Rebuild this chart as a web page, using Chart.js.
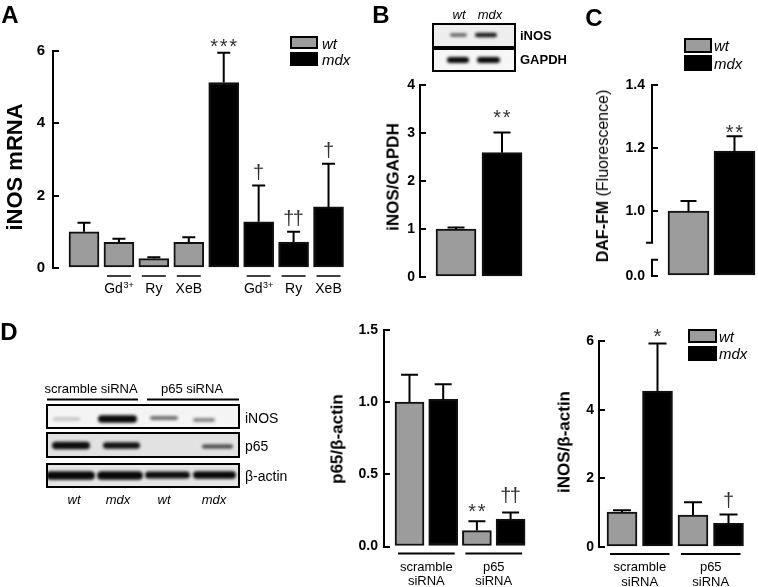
<!DOCTYPE html>
<html lang="en">
<head>
<meta charset="UTF-8">
<title>iNOS in wt and mdx muscle</title>
<script src="https://cdn.jsdelivr.net/npm/chart.js@4"></script>
<style>
  body { margin: 0; background: #fff; }
  #fig { position: relative; width: 758px; height: 587px; overflow: hidden;
         font-family: "Liberation Sans", Arial, sans-serif; color: #000; }
  #fig canvas { position: absolute; left: 0; top: 0; }
  /* text centred on (left, top) */
  .t { position: absolute; white-space: nowrap; line-height: 1; transform: translate(-50%, -50%); }
  /* text starting at left, centred vertically on top */
  .l { position: absolute; white-space: nowrap; line-height: 1; transform: translateY(-50%); }
  /* rotated axis titles */
  .v { position: absolute; white-space: nowrap; line-height: 1; font-weight: bold;
       transform: translate(-50%, -50%) rotate(-90deg); }
  .p { font-size: 24px; font-weight: bold; }
  .box { position: absolute; box-sizing: border-box; border: 2px solid #000; }
  .wt { background: #9c9c9c; }
  .mdx { background: #000; }
  .it { font-style: italic; }
</style>
</head>
<body>
<div id="fig">
  <canvas id="blots" width="758" height="587"></canvas>
  <canvas id="chartA" width="758" height="587"></canvas>
  <canvas id="chartB" width="758" height="587"></canvas>
  <canvas id="chartC" width="758" height="587"></canvas>
  <canvas id="chartP65" width="758" height="587"></canvas>
  <canvas id="chartInos" width="758" height="587"></canvas>

  <!-- panel letters -->
  <div class="t p" style="left:10px; top:15px;">A</div>
  <div class="t p" style="left:381px; top:15px;">B</div>
  <div class="t p" style="left:594px; top:18px;">C</div>
  <div class="t p" style="left:9px; top:332px;">D</div>

  <!-- axis titles -->
  <div class="v" style="left:15px; top:167px; font-size:22px;">iNOS mRNA</div>
  <div class="v" style="left:393px; top:177px; font-size:17px;">iNOS/GAPDH</div>
  <div class="v" style="left:603px; top:176px; font-size:16px;">DAF-FM <span style="font-weight:normal;">(Fluorescence)</span></div>
  <div class="v" style="left:337px; top:439px; font-size:17px;">p65/β-actin</div>
  <div class="v" style="left:564px; top:442px; font-size:17px;">iNOS/β-actin</div>

  <!-- legends -->
  <div class="box wt" style="left:290px; top:36px; width:28px; height:13px;"></div>
  <div class="box mdx" style="left:290px; top:52px; width:28px; height:14px;"></div>
  <div class="l it" style="left:322px; top:43px; font-size:15px;">wt</div>
  <div class="l it" style="left:322px; top:59px; font-size:15px;">mdx</div>

  <div class="box wt" style="left:684px; top:38px; width:28px; height:15px;"></div>
  <div class="box mdx" style="left:684px; top:55px; width:28px; height:16px;"></div>
  <div class="l it" style="left:714px; top:45px; font-size:15px;">wt</div>
  <div class="l it" style="left:714px; top:63px; font-size:15px;">mdx</div>

  <div class="box wt" style="left:688px; top:329px; width:29px; height:14px;"></div>
  <div class="box mdx" style="left:688px; top:346px; width:29px; height:15px;"></div>
  <div class="l it" style="left:719px; top:336px; font-size:15px;">wt</div>
  <div class="l it" style="left:719px; top:353px; font-size:15px;">mdx</div>

  <!-- blot labels, panel B -->
  <div class="t it" style="left:459px; top:14px; font-size:13px;">wt</div>
  <div class="t it" style="left:490px; top:14px; font-size:13px;">mdx</div>
  <div class="l" style="left:520px; top:35px; font-size:13px; font-weight:bold;">iNOS</div>
  <div class="l" style="left:520px; top:59px; font-size:13px; font-weight:bold;">GAPDH</div>

  <!-- blot labels, panel D -->
  <div class="t" style="left:91px; top:388px; font-size:13px;">scramble siRNA</div>
  <div class="t" style="left:192px; top:388px; font-size:13px;">p65 siRNA</div>
  <div class="l" style="left:245px; top:418px; font-size:14px;">iNOS</div>
  <div class="l" style="left:245px; top:446px; font-size:14px;">p65</div>
  <div class="l" style="left:245px; top:476px; font-size:14px;">β-actin</div>
  <div class="t it" style="left:74px; top:499px; font-size:13px;">wt</div>
  <div class="t it" style="left:118px; top:499px; font-size:13px;">mdx</div>
  <div class="t it" style="left:164px; top:499px; font-size:13px;">wt</div>
  <div class="t it" style="left:214px; top:499px; font-size:13px;">mdx</div>
</div>

<script>
// ---------- data (mean and SEM) ----------

// A: iNOS mRNA; wt then mdx, each untreated / Gd3+ / Ry / XeB
const aLabels = ['', 'Gd^3+', 'Ry', 'XeB', '', 'Gd^3+', 'Ry', 'XeB'];
const aWt = [1.00, 0.71, 0.26, 0.71];
const aWtSem = [0.25, 0.10, 0.04, 0.14];
const aMdx = [5.13, 1.28, 0.72, 1.69];
const aMdxSem = [0.82, 1.00, 0.28, 1.19];
const aMdxMarks = ['***', '†', '††', '†'];
const aTicks = [0, 2, 4, 6];
const aTickLabels = ['0', '2', '4', '6'];

// B: iNOS/GAPDH
const bWt = [1.00];
const bWtSem = [0.03];
const bMdx = [2.59];
const bMdxSem = [0.42];
const bMdxMarks = ['**'];
const bTicks = [0, 1, 2, 3, 4];
const bTickLabels = ['0', '1', '2', '3', '4'];

// C: DAF-FM fluorescence, broken axis (lowest tick stands for 0.0)
const cWt = [1.00];
const cWtSem = [0.032];
const cMdx = [1.19];
const cMdxSem = [0.047];
const cMdxMarks = ['**'];
const cTicks = [0.7937, 1.0, 1.2, 1.4];
const cTickLabels = ['0.0', '1.0', '1.2', '1.4'];
const cBreak = [0.845, 0.899];

// D: scramble siRNA / p65 siRNA
const dGroups = ['scramble siRNA', 'p65 siRNA'];
const p65Wt = [1.00, 0.11];
const p65WtSem = [0.19, 0.065];
const p65WtMarks = ['', '**'];
const p65Mdx = [1.02, 0.19];
const p65MdxSem = [0.105, 0.046];
const p65MdxMarks = ['', '††'];
const p65Ticks = [0, 0.5, 1.0, 1.5];
const p65TickLabels = ['0.0', '0.5', '1.0', '1.5'];

const inosWt = [1.02, 0.93];
const inosWtSem = [0.05, 0.37];
const inosMdx = [4.54, 0.69];
const inosMdxSem = [1.39, 0.26];
const inosMdxMarks = ['*', '†'];
const inosTicks = [0, 2, 4, 6];
const inosTickLabels = ['0', '2', '4', '6'];

// ---------- drawing ----------
const FONT = '"Liberation Sans", Arial, sans-serif';
Chart.defaults.font.family = FONT;
Chart.defaults.color = '#000';

// error bars, significance marks, category labels, axis break
const deco = {
  id: 'deco',
  afterDatasetsDraw(chart, args, o) {
    const { ctx, chartArea: area, scales: { x, y } } = chart;
    ctx.save();
    ctx.strokeStyle = '#000';
    ctx.fillStyle = '#000';
    ctx.lineWidth = 2;

    chart.data.datasets.forEach((ds, di) => {
      chart.getDatasetMeta(di).data.forEach((bar, i) => {
        const top = y.getPixelForValue(ds.data[i].y + ds.sem[i]);
        ctx.beginPath();
        ctx.moveTo(bar.x, bar.y);
        ctx.lineTo(bar.x, top);
        ctx.moveTo(bar.x - o.cap / 2, top);
        ctx.lineTo(bar.x + o.cap / 2, top);
        ctx.stroke();

        const mark = ds.marks[i];
        if (mark) {
          const chars = [...mark];
          ctx.font = '20px ' + FONT;
          ctx.fillStyle = '#333';
          ctx.textAlign = 'center';
          ctx.textBaseline = 'alphabetic';
          chars.forEach((ch, k) => {
            const m = ctx.measureText(ch);
            ctx.fillText(ch, bar.x + (k - (chars.length - 1) / 2) * 9.5, top - o.gap - m.actualBoundingBoxDescent);
          });
        }
      });
    });

    ctx.fillStyle = '#000';
    ctx.textBaseline = 'alphabetic';

    // treatment labels with a short line over each (panel A)
    if (o.labels) {
      o.labels.forEach((lab, pos) => {
        if (!lab) return;
        const cx = x.getPixelForValue(pos);
        ctx.lineWidth = 1.5;
        ctx.beginPath();
        ctx.moveTo(cx - o.barW / 2 + 3, area.bottom + 8);
        ctx.lineTo(cx + o.barW / 2 - 3, area.bottom + 8);
        ctx.stroke();
        const [base, sup] = lab.split('^');
        ctx.font = '14px ' + FONT;
        const w1 = ctx.measureText(base).width;
        ctx.font = '9px ' + FONT;
        const w2 = sup ? ctx.measureText(sup).width + 0.5 : 0;
        const sx = cx - (w1 + w2) / 2;
        ctx.textAlign = 'left';
        ctx.font = '14px ' + FONT;
        ctx.fillText(base, sx, area.bottom + 25);
        if (sup) {
          ctx.font = '9px ' + FONT;
          ctx.fillText(sup, sx + w1 + 0.5, area.bottom + 20);
        }
      });
    }

    // two-bar groups with a line and two-line caption (panel D)
    if (o.groups) {
      o.groups.forEach((g, gi) => {
        const x1 = x.getPixelForValue(gi * 2) - o.barW / 2 + 3;
        const x2 = x.getPixelForValue(gi * 2 + 1) + o.barW / 2 - 3;
        ctx.lineWidth = 2;
        ctx.beginPath();
        ctx.moveTo(x1, area.bottom + 7);
        ctx.lineTo(x2, area.bottom + 7);
        ctx.stroke();
        ctx.font = '13px ' + FONT;
        ctx.textAlign = 'center';
        g.split(' ').forEach((word, k) => ctx.fillText(word, (x1 + x2) / 2, area.bottom + 24 + k * 14.5));
      });
    }

    // broken y axis (panel C)
    if (o.axisBreak) {
      const ax = area.left;
      const lo = y.getPixelForValue(o.axisBreak[0]);
      const hi = y.getPixelForValue(o.axisBreak[1]);
      ctx.lineWidth = 2;
      ctx.beginPath();
      ctx.moveTo(ax, area.top - 1);
      ctx.lineTo(ax, hi);
      ctx.lineTo(ax - 6, hi);
      ctx.moveTo(ax + 6, lo);
      ctx.lineTo(ax, lo);
      ctx.lineTo(ax, area.bottom + 1);
      ctx.stroke();
    }
    ctx.restore();
  }
};

function makeChart(id, c) {
  const series = [
    { name: 'wt', pos: c.wtPos, mean: c.wt, sem: c.wtSem, marks: c.wtMarks || [], color: '#9c9c9c' },
    { name: 'mdx', pos: c.mdxPos, mean: c.mdx, sem: c.mdxSem, marks: c.mdxMarks || [], color: '#000' }
  ];
  return new Chart(document.getElementById(id), {
    type: 'bar',
    data: {
      datasets: series.map(s => ({
        label: s.name,
        data: s.mean.map((v, i) => ({ x: s.pos[i], y: v })),
        sem: s.sem,
        marks: s.marks,
        backgroundColor: s.color,
        borderColor: '#111',
        borderWidth: 2,
        borderSkipped: false,
        barThickness: c.barW,
        grouped: false,
        base: c.ticks[0]
      }))
    },
    options: {
      responsive: false,
      animation: false,
      events: [],
      layout: { padding: { left: c.box[0] - 40, top: c.box[1], right: 758 - c.box[2], bottom: 587 - c.box[3] } },
      plugins: {
        legend: { display: false },
        tooltip: { enabled: false },
        deco: { cap: c.cap, gap: c.gap, barW: c.barW, labels: c.labels, groups: c.groups, axisBreak: c.axisBreak }
      },
      scales: {
        x: { type: 'linear', display: false, offset: false, min: c.xRange[0], max: c.xRange[1] },
        y: {
          min: c.ticks[0],
          max: c.ticks[c.ticks.length - 1],
          afterFit: s => { s.width = 40; },
          afterBuildTicks: s => { s.ticks = c.ticks.map(v => ({ value: v })); },
          ticks: {
            callback: (v, i) => c.tickLabels[i],
            font: { size: c.tickSize, weight: 'bold' },
            color: '#000',
            padding: c.tickPad
          },
          grid: { drawOnChartArea: false, tickLength: -6, lineWidth: 2, color: '#000' },
          border: { display: !c.axisBreak, color: '#000', width: 2 }
        }
      }
    },
    plugins: [deco]
  });
}

makeChart('chartA', {
  wt: aWt, wtSem: aWtSem, wtPos: [0, 1, 2, 3],
  mdx: aMdx, mdxSem: aMdxSem, mdxMarks: aMdxMarks, mdxPos: [4, 5, 6, 7],
  ticks: aTicks, tickLabels: aTickLabels, labels: aLabels,
  box: [53, 51, 350, 268], xRange: [-0.8875, 7.615],
  barW: 30, cap: 13, gap: 6, tickSize: 15, tickPad: 14
});

makeChart('chartB', {
  wt: bWt, wtSem: bWtSem, wtPos: [0],
  mdx: bMdx, mdxSem: bMdxSem, mdxMarks: bMdxMarks, mdxPos: [1],
  ticks: bTicks, tickLabels: bTickLabels,
  box: [420, 85, 540, 277], xRange: [-0.783, 1.826],
  barW: 40, cap: 17, gap: 15, tickSize: 14, tickPad: 11
});

makeChart('chartC', {
  wt: cWt, wtSem: cWtSem, wtPos: [0],
  mdx: cMdx, mdxSem: cMdxSem, mdxMarks: cMdxMarks, mdxPos: [1],
  ticks: cTicks, tickLabels: cTickLabels, axisBreak: cBreak,
  box: [652, 85, 758, 276], xRange: [-0.7935, 1.511],
  barW: 41, cap: 16, gap: 3, tickSize: 14, tickPad: 13
});

makeChart('chartP65', {
  wt: p65Wt, wtSem: p65WtSem, wtMarks: p65WtMarks, wtPos: [0, 2],
  mdx: p65Mdx, mdxSem: p65MdxSem, mdxMarks: p65MdxMarks, mdxPos: [1, 3],
  ticks: p65Ticks, tickLabels: p65TickLabels, groups: dGroups,
  box: [384, 330, 530, 546.5], xRange: [-0.757, 3.576],
  barW: 29, cap: 17, gap: 9, tickSize: 14, tickPad: 12
});

makeChart('chartInos', {
  wt: inosWt, wtSem: inosWtSem, wtPos: [0, 2],
  mdx: inosMdx, mdxSem: inosMdxSem, mdxMarks: inosMdxMarks, mdxPos: [1, 3],
  ticks: inosTicks, tickLabels: inosTickLabels, groups: dGroups,
  box: [599, 341, 750, 547], xRange: [-0.648, 3.606],
  barW: 30, cap: 18, gap: 6, tickSize: 14, tickPad: 11
});

// ---------- western blot strips (illustration, not data) ----------
const bl = document.getElementById('blots').getContext('2d');
function strip(x, y, w, h, bg, bands) {
  bl.save();
  bl.fillStyle = bg;
  bl.fillRect(x, y, w, h);
  bl.beginPath();
  bl.rect(x, y, w, h);
  bl.clip();
  bands.forEach(([x1, x2, yc, th, a]) => {
    bl.save();
    bl.filter = 'blur(1.4px)';
    bl.fillStyle = `rgba(0,0,0,${a})`;
    bl.beginPath();
    bl.roundRect(x1, yc - th / 2, x2 - x1, th, th / 2);
    bl.fill();
    bl.restore();
  });
  bl.restore();
  bl.lineWidth = 2;
  bl.strokeStyle = '#000';
  bl.strokeRect(x, y, w, h);
}

// panel B
strip(433, 24, 82, 23, '#eeeeee', [[450, 467, 35, 3.5, 0.6], [475, 497, 35, 4.5, 0.9]]);
strip(433, 49, 82, 22, '#f6f6f6', [[447, 469, 60, 6, 0.97], [477, 500, 60, 6, 0.97]]);

// panel D
bl.lineWidth = 2;
bl.strokeStyle = '#000';
bl.beginPath();
bl.moveTo(47, 399.5); bl.lineTo(138, 399.5);
bl.moveTo(147, 399.5); bl.lineTo(239, 399.5);
bl.stroke();
strip(47, 405, 192, 23, '#f4f4f4', [[53, 80, 419, 3, 0.22], [98, 137, 419, 7.5, 0.97], [150, 178, 418, 4, 0.55], [193, 215, 420, 3.5, 0.5]]);
strip(47, 433, 192, 24, '#e2e2e2', [[52, 90, 445.5, 7.5, 0.95], [103, 140, 445.5, 6.5, 0.92], [202, 233, 446.5, 4, 0.7]]);
strip(47, 464, 192, 23, '#e6e6e6', [[46, 95, 475.5, 8.5, 0.97], [97, 143, 475.5, 8.5, 0.97], [145, 190, 475, 7, 0.95], [193, 236, 475, 7.5, 0.97]]);
</script>
</body>
</html>
